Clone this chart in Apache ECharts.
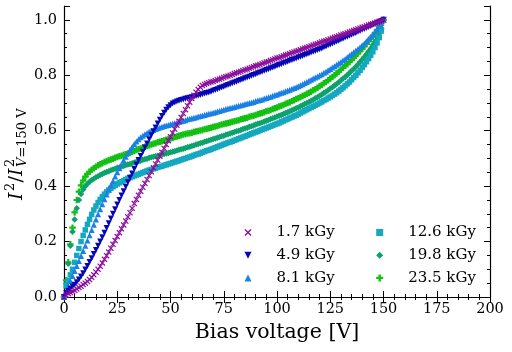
<!DOCTYPE html>
<html>
<head>
<meta charset="utf-8">
<script src="https://cdn.jsdelivr.net/npm/echarts@6/dist/echarts.min.js"></script>
<style>
  html, body { margin: 0; padding: 0; background: #fff; }
  #chart { width: 512px; height: 352px; }
</style>
</head>
<body>
<div id="chart"></div>
<script>
// bias voltage steps [V]
const voltage = [0, 1, 2, 3, 4, 5, 6, 7, 8, 9, 10, 11, 12, 13, 14, 15, 16, 17, 18, 19, 20, 21, 22, 23, 24, 25, 26, 27, 28, 29, 30, 31, 32, 33, 34, 35, 36, 37, 38, 39, 40, 41, 42, 43, 44, 45, 46, 47, 48, 49, 50, 51, 52, 53, 54, 55, 56, 57, 58, 59, 60, 61, 62, 63, 64, 65, 66, 67, 68, 69, 70, 71, 72, 73, 74, 75, 76, 77, 78, 79, 80, 81, 82, 83, 84, 85, 86, 87, 88, 89, 90, 91, 92, 93, 94, 95, 96, 97, 98, 99, 100, 101, 102, 103, 104, 105, 106, 107, 108, 109, 110, 111, 112, 113, 114, 115, 116, 117, 118, 119, 120, 121, 122, 123, 124, 125, 126, 127, 128, 129, 130, 131, 132, 133, 134, 135, 136, 137, 138, 139, 140, 141, 142, 143, 144, 145, 146, 147, 148, 149, 150]

const doseNames = ['1.7 kGy', '4.9 kGy', '8.1 kGy', '12.6 kGy', '19.8 kGy', '23.5 kGy']

// I^2 / I^2(150 V)
const dose1p7 = [0.000, 0.007, 0.012, 0.016, 0.020, 0.024, 0.029, 0.034, 0.039, 0.045, 0.050, 0.056, 0.063, 0.071, 0.080, 0.090, 0.100, 0.111, 0.123, 0.136, 0.149, 0.162, 0.176, 0.190, 0.204, 0.218, 0.232, 0.246, 0.260, 0.274, 0.289, 0.304, 0.320, 0.337, 0.352, 0.367, 0.382, 0.396, 0.410, 0.424, 0.438, 0.452, 0.466, 0.480, 0.494, 0.508, 0.522, 0.536, 0.550, 0.564, 0.578, 0.592, 0.606, 0.620, 0.634, 0.648, 0.662, 0.676, 0.690, 0.703, 0.716, 0.728, 0.739, 0.749, 0.757, 0.763, 0.767, 0.770, 0.773, 0.776, 0.778, 0.781, 0.784, 0.786, 0.789, 0.792, 0.795, 0.797, 0.800, 0.803, 0.806, 0.809, 0.811, 0.814, 0.817, 0.820, 0.822, 0.825, 0.828, 0.831, 0.834, 0.836, 0.839, 0.842, 0.845, 0.848, 0.850, 0.853, 0.856, 0.859, 0.862, 0.864, 0.867, 0.870, 0.873, 0.875, 0.878, 0.881, 0.884, 0.887, 0.889, 0.892, 0.895, 0.898, 0.900, 0.903, 0.906, 0.909, 0.912, 0.914, 0.917, 0.920, 0.923, 0.925, 0.928, 0.931, 0.934, 0.937, 0.939, 0.942, 0.945, 0.948, 0.950, 0.953, 0.956, 0.959, 0.962, 0.964, 0.967, 0.970, 0.973, 0.975, 0.978, 0.981, 0.984, 0.986, 0.989, 0.992, 0.995, 0.997, 1.000]
const dose4p9 = [0.000, 0.014, 0.022, 0.030, 0.037, 0.044, 0.053, 0.063, 0.074, 0.086, 0.099, 0.112, 0.126, 0.140, 0.155, 0.170, 0.185, 0.200, 0.216, 0.232, 0.249, 0.266, 0.283, 0.300, 0.317, 0.334, 0.350, 0.366, 0.382, 0.398, 0.414, 0.430, 0.446, 0.462, 0.478, 0.494, 0.509, 0.524, 0.539, 0.554, 0.569, 0.584, 0.598, 0.612, 0.626, 0.640, 0.653, 0.665, 0.676, 0.685, 0.692, 0.698, 0.702, 0.705, 0.708, 0.711, 0.713, 0.715, 0.717, 0.719, 0.721, 0.723, 0.725, 0.727, 0.729, 0.732, 0.734, 0.736, 0.738, 0.741, 0.744, 0.747, 0.750, 0.753, 0.756, 0.759, 0.762, 0.765, 0.768, 0.771, 0.774, 0.777, 0.780, 0.783, 0.786, 0.789, 0.792, 0.795, 0.798, 0.801, 0.804, 0.807, 0.810, 0.813, 0.816, 0.819, 0.822, 0.825, 0.828, 0.831, 0.834, 0.837, 0.840, 0.843, 0.846, 0.849, 0.852, 0.855, 0.858, 0.861, 0.864, 0.867, 0.870, 0.873, 0.876, 0.879, 0.882, 0.885, 0.888, 0.891, 0.894, 0.897, 0.901, 0.904, 0.908, 0.911, 0.915, 0.918, 0.922, 0.925, 0.929, 0.932, 0.936, 0.939, 0.943, 0.946, 0.950, 0.953, 0.957, 0.960, 0.964, 0.967, 0.971, 0.974, 0.978, 0.981, 0.985, 0.989, 0.992, 0.996, 1.000]
const dose8p1 = [0.000, 0.020, 0.040, 0.058, 0.076, 0.094, 0.112, 0.130, 0.148, 0.166, 0.185, 0.204, 0.223, 0.242, 0.261, 0.280, 0.299, 0.317, 0.335, 0.353, 0.370, 0.387, 0.403, 0.419, 0.435, 0.450, 0.465, 0.479, 0.493, 0.506, 0.519, 0.531, 0.542, 0.552, 0.561, 0.569, 0.576, 0.582, 0.587, 0.592, 0.596, 0.600, 0.603, 0.606, 0.609, 0.612, 0.614, 0.617, 0.619, 0.621, 0.623, 0.625, 0.627, 0.629, 0.632, 0.634, 0.636, 0.638, 0.641, 0.643, 0.645, 0.647, 0.649, 0.651, 0.653, 0.655, 0.657, 0.659, 0.661, 0.663, 0.665, 0.667, 0.669, 0.671, 0.674, 0.676, 0.678, 0.680, 0.682, 0.684, 0.686, 0.688, 0.690, 0.692, 0.694, 0.696, 0.698, 0.700, 0.702, 0.704, 0.707, 0.709, 0.711, 0.713, 0.716, 0.718, 0.721, 0.723, 0.726, 0.729, 0.731, 0.734, 0.737, 0.739, 0.742, 0.745, 0.748, 0.751, 0.754, 0.757, 0.760, 0.764, 0.768, 0.772, 0.776, 0.780, 0.784, 0.788, 0.792, 0.796, 0.800, 0.804, 0.809, 0.813, 0.818, 0.823, 0.828, 0.833, 0.838, 0.843, 0.848, 0.854, 0.859, 0.865, 0.871, 0.877, 0.883, 0.889, 0.895, 0.901, 0.908, 0.915, 0.923, 0.931, 0.939, 0.947, 0.957, 0.967, 0.978, 0.989, 1.000]
const dose12p6 = [0.000, 0.040, 0.060, 0.080, 0.100, 0.125, 0.150, 0.175, 0.200, 0.222, 0.242, 0.262, 0.280, 0.298, 0.314, 0.328, 0.341, 0.352, 0.362, 0.371, 0.379, 0.386, 0.392, 0.398, 0.403, 0.408, 0.412, 0.416, 0.420, 0.424, 0.428, 0.431, 0.434, 0.437, 0.440, 0.443, 0.446, 0.449, 0.452, 0.455, 0.458, 0.460, 0.463, 0.465, 0.468, 0.470, 0.472, 0.475, 0.477, 0.480, 0.482, 0.485, 0.487, 0.490, 0.492, 0.495, 0.498, 0.500, 0.503, 0.505, 0.508, 0.511, 0.514, 0.516, 0.519, 0.522, 0.525, 0.528, 0.530, 0.533, 0.536, 0.539, 0.542, 0.545, 0.548, 0.551, 0.554, 0.557, 0.559, 0.562, 0.565, 0.568, 0.571, 0.574, 0.577, 0.580, 0.583, 0.586, 0.589, 0.592, 0.595, 0.598, 0.601, 0.604, 0.607, 0.610, 0.613, 0.616, 0.619, 0.622, 0.625, 0.628, 0.632, 0.635, 0.639, 0.642, 0.646, 0.649, 0.653, 0.656, 0.660, 0.664, 0.668, 0.672, 0.676, 0.680, 0.684, 0.688, 0.692, 0.696, 0.700, 0.704, 0.709, 0.713, 0.718, 0.722, 0.727, 0.732, 0.737, 0.743, 0.749, 0.755, 0.762, 0.769, 0.776, 0.784, 0.792, 0.800, 0.809, 0.818, 0.828, 0.838, 0.849, 0.860, 0.872, 0.885, 0.900, 0.917, 0.936, 0.960, 1.000]
const dose19p8 = [0.000, 0.050, 0.120, 0.185, 0.235, 0.280, 0.320, 0.350, 0.372, 0.388, 0.400, 0.409, 0.416, 0.422, 0.427, 0.432, 0.436, 0.440, 0.444, 0.448, 0.451, 0.454, 0.457, 0.460, 0.463, 0.466, 0.468, 0.471, 0.473, 0.476, 0.478, 0.480, 0.483, 0.485, 0.488, 0.490, 0.492, 0.495, 0.497, 0.499, 0.502, 0.504, 0.506, 0.508, 0.510, 0.512, 0.514, 0.516, 0.518, 0.520, 0.522, 0.524, 0.526, 0.529, 0.531, 0.533, 0.535, 0.538, 0.540, 0.542, 0.545, 0.547, 0.550, 0.552, 0.555, 0.557, 0.560, 0.562, 0.565, 0.567, 0.570, 0.572, 0.575, 0.577, 0.580, 0.582, 0.585, 0.587, 0.590, 0.593, 0.595, 0.598, 0.600, 0.603, 0.606, 0.608, 0.611, 0.614, 0.616, 0.619, 0.622, 0.625, 0.627, 0.630, 0.633, 0.636, 0.639, 0.642, 0.645, 0.648, 0.651, 0.654, 0.657, 0.660, 0.664, 0.667, 0.670, 0.674, 0.677, 0.681, 0.684, 0.688, 0.692, 0.696, 0.700, 0.704, 0.708, 0.712, 0.717, 0.721, 0.726, 0.731, 0.736, 0.741, 0.746, 0.752, 0.757, 0.763, 0.769, 0.775, 0.781, 0.788, 0.794, 0.801, 0.808, 0.816, 0.823, 0.831, 0.839, 0.848, 0.857, 0.866, 0.876, 0.886, 0.897, 0.909, 0.922, 0.936, 0.951, 0.970, 1.000]
const dose23p5 = [0.000, 0.060, 0.125, 0.190, 0.250, 0.305, 0.350, 0.380, 0.403, 0.420, 0.434, 0.444, 0.452, 0.459, 0.465, 0.470, 0.475, 0.479, 0.483, 0.487, 0.490, 0.493, 0.496, 0.499, 0.502, 0.505, 0.508, 0.510, 0.513, 0.515, 0.518, 0.521, 0.524, 0.527, 0.530, 0.533, 0.536, 0.539, 0.542, 0.545, 0.548, 0.550, 0.553, 0.555, 0.558, 0.560, 0.562, 0.565, 0.567, 0.570, 0.572, 0.574, 0.577, 0.579, 0.582, 0.584, 0.586, 0.588, 0.590, 0.591, 0.593, 0.595, 0.597, 0.599, 0.601, 0.603, 0.605, 0.607, 0.609, 0.611, 0.613, 0.615, 0.617, 0.620, 0.622, 0.624, 0.626, 0.628, 0.630, 0.632, 0.634, 0.636, 0.638, 0.641, 0.643, 0.645, 0.647, 0.650, 0.652, 0.654, 0.657, 0.659, 0.662, 0.664, 0.667, 0.670, 0.672, 0.675, 0.678, 0.681, 0.684, 0.687, 0.690, 0.693, 0.697, 0.700, 0.703, 0.707, 0.710, 0.714, 0.717, 0.721, 0.725, 0.729, 0.733, 0.737, 0.741, 0.746, 0.750, 0.755, 0.760, 0.765, 0.771, 0.776, 0.782, 0.788, 0.794, 0.800, 0.807, 0.813, 0.820, 0.827, 0.834, 0.840, 0.848, 0.855, 0.863, 0.871, 0.879, 0.887, 0.895, 0.904, 0.913, 0.922, 0.932, 0.942, 0.953, 0.964, 0.976, 0.988, 1.000]

const xTicks = [0, 25, 50, 75, 100, 125, 150, 175, 200]
const yTicks = [0, 0.2, 0.4, 0.6, 0.8, 1.0]

const allDoses = [dose1p7, dose4p9, dose8p1, dose12p6, dose19p8, dose23p5]
const colors = ['#8a0c9c', '#0606b4', '#1a80e4', '#14a8c0', '#0ca26c', '#12c012']
const symbols = [
  'path://M0,1.4L1.4,0L5,3.6L8.6,0L10,1.4L6.4,5L10,8.6L8.6,10L5,6.4L1.4,10L0,8.6L3.6,5Z',
  'path://M0,0L10,0L5,10Z',
  'path://M5,0L10,10L0,10Z',
  'path://M0,0L10,0L10,10L0,10Z',
  'path://M5,0L10,5L5,10L0,5Z',
  'path://M3.3,0L6.7,0L6.7,3.3L10,3.3L10,6.7L6.7,6.7L6.7,10L3.3,10L3.3,6.7L0,6.7L0,3.3L3.3,3.3Z'
]
const sizes = [6, 6, 6, 5.5, 6.5, 6.5]

const serif = 'DejaVu Serif'

const series = allDoses.map((vals, i) => ({
  name: doseNames[i],
  type: 'scatter',
  xAxisIndex: 0,
  yAxisIndex: 0,
  symbol: symbols[i],
  symbolSize: sizes[i],
  itemStyle: { color: colors[i], opacity: 1 },
  z: 8 - i,
  data: voltage.map((v, k) => [v, vals[k]])
}))

function yAxisDef (position, step, tickLen, showLabel, showLine) {
  return {
    type: 'value',
    position: position,
    min: 0,
    max: 1.05,
    interval: step,
    axisLine: { show: showLine, lineStyle: { color: '#000', width: 1.2 } },
    axisTick: { show: true, inside: true, length: tickLen, lineStyle: { color: '#000', width: 1 } },
    axisLabel: {
      show: showLabel,
      margin: 7,
      color: '#000',
      fontFamily: serif,
      fontSize: 14.5,
      formatter: v => {
        const hit = yTicks.find(t => Math.abs(t - v) < 1e-6)
        return hit === undefined ? '' : hit.toFixed(1)
      }
    },
    splitLine: { show: false }
  }
}

function xAxisDef (position, showLabel) {
  return {
    type: 'value',
    position: position,
    min: xTicks[0],
    max: xTicks[xTicks.length - 1],
    interval: 25,
    axisLine: { show: true, lineStyle: { color: '#000', width: 1.2 } },
    axisTick: { show: true, inside: true, length: 6, lineStyle: { color: '#000', width: 1 } },
    minorTick: { show: true, splitNumber: 5, length: 3, lineStyle: { color: '#000', width: 1 } },
    axisLabel: { show: showLabel, margin: 5, color: '#000', fontFamily: serif, fontSize: 14.5 },
    splitLine: { show: false },
    minorSplitLine: { show: false },
    name: showLabel ? 'Bias voltage [V]' : '',
    nameLocation: 'middle',
    nameGap: 24,
    nameTextStyle: { color: '#000', fontFamily: serif, fontSize: 20.5 }
  }
}

const legendText = { color: '#000', fontFamily: serif, fontSize: 15, lineHeight: 14 }

const option = {
  animation: false,
  backgroundColor: '#fff',
  grid: { left: 64, top: 6, width: 426, height: 291 },
  xAxis: [xAxisDef('bottom', true), xAxisDef('top', false)],
  yAxis: [
    yAxisDef('left', 0.2, 6, true, true),
    yAxisDef('left', 0.05, 3, false, false),
    yAxisDef('right', 0.2, 6, false, true),
    yAxisDef('right', 0.05, 3, false, false)
  ],
  legend: [
    {
      data: doseNames.slice(0, 3),
      orient: 'vertical',
      left: 244.5,
      top: 225,
      padding: 0,
      itemWidth: 47,
      itemHeight: 7,
      itemGap: 7.7,
      selectedMode: false,
      textStyle: legendText
    },
    {
      data: doseNames.slice(3),
      orient: 'vertical',
      left: 376.2,
      top: 225,
      padding: 0,
      itemWidth: 47,
      itemHeight: 7,
      itemGap: 7.7,
      selectedMode: false,
      textStyle: legendText
    }
  ],
  // y axis title: I^2 / I^2_{V=150 V}
  graphic: [{
    type: 'group',
    x: 17,
    y: 200,
    rotation: Math.PI / 2,
    children: [
      { type: 'text', x: 0, y: 0, style: { text: 'I', fontFamily: serif, fontStyle: 'italic', fontSize: 19, fill: '#000', verticalAlign: 'middle' } },
      { type: 'text', x: 9, y: -6.5, style: { text: '2', fontFamily: serif, fontSize: 13, fill: '#000', verticalAlign: 'middle' } },
      { type: 'text', x: 17.5, y: 0, style: { text: '/', fontFamily: serif, fontSize: 19, fill: '#000', verticalAlign: 'middle' } },
      { type: 'text', x: 24, y: 0, style: { text: 'I', fontFamily: serif, fontStyle: 'italic', fontSize: 19, fill: '#000', verticalAlign: 'middle' } },
      { type: 'text', x: 33, y: -6.5, style: { text: '2', fontFamily: serif, fontSize: 13, fill: '#000', verticalAlign: 'middle' } },
      { type: 'text', x: 33, y: 5.5, style: { text: '{v|V}=150 V', fontFamily: serif, fontSize: 13, fill: '#000', verticalAlign: 'middle', rich: { v: { fontFamily: serif, fontStyle: 'italic', fontSize: 13 } } } }
    ]
  }],
  series: series
}

const myChart = echarts.init(document.getElementById('chart'))
myChart.setOption(option)
</script>
</body>
</html>
